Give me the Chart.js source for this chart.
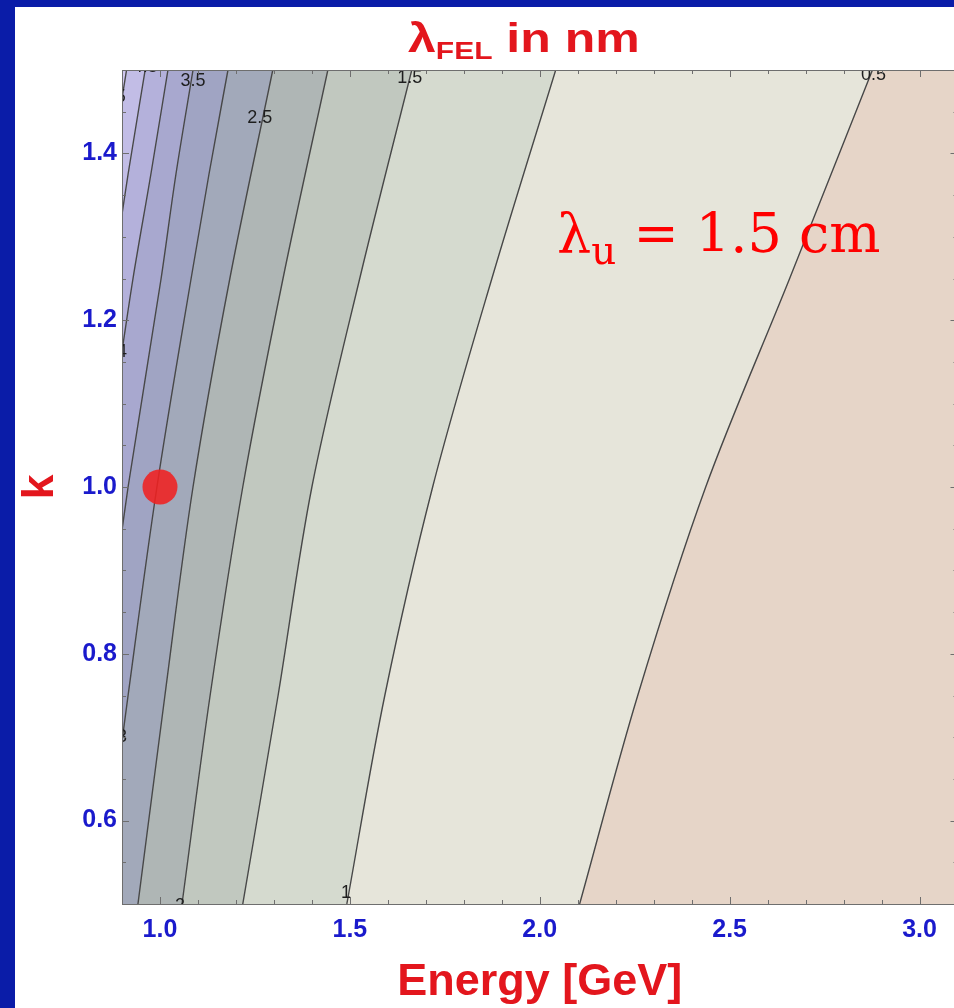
<!DOCTYPE html>
<html>
<head>
<meta charset="utf-8">
<script src="https://cdn.jsdelivr.net/npm/chart.js@4.4.1/dist/chart.umd.min.js"></script>
<style>
  html, body { margin: 0; padding: 0; }
  body { width: 954px; height: 1008px; overflow: hidden; background: #0a1ca8; position: relative; }
  #panel { position: absolute; left: 15px; top: 7px; width: 960px; height: 1001px; background: #ffffff; }
  #fel { position: absolute; left: 15px; top: 7px; }
  #title { position: absolute; left: 408px; top: 16px; white-space: nowrap; line-height: 1;
           font: bold 40px 'Liberation Sans', Arial, sans-serif; color: #e3161d;
           transform: scaleX(1.25); transform-origin: left top; }
  #title sub { font-size: 0.6em; vertical-align: -0.28em; }
  #undulator { position: absolute; left: 557px; top: 202px; white-space: nowrap; line-height: 1;
               font: 54px 'DejaVu Serif', serif; color: #ff0000; }
  #undulator sub { font-size: 0.72em; vertical-align: -0.3em; }
</style>
</head>
<body>
<div id="panel"></div>
<canvas id="fel" width="960" height="1001"></canvas>
<div id="title">λ<sub>FEL</sub> in nm</div>
<div id="undulator">λ<sub>u</sub> = 1.5 cm</div>
<script>
// axes
const xTicks = [1.0, 1.5, 2.0, 2.5, 3.0];
const yTicks = [0.6, 0.8, 1.0, 1.2, 1.4];

// contour lines: energy (GeV) at given k
const kGrid = [0.5, 0.75, 1.0, 1.25, 1.5];
const e05 = [2.105, 2.258, 2.437, 2.658, 2.876];
const e10 = [1.492, 1.592, 1.718, 1.874, 2.042];
const e15 = [1.218, 1.311, 1.400, 1.526, 1.663];
const e20 = [1.058, 1.132, 1.218, 1.324, 1.442];
const e25 = [0.942, 1.013, 1.087, 1.184, 1.297];
// these ones leave through the left frame
const k30 = [0.695, 0.75, 1.0, 1.25, 1.375, 1.5];
const e30 = [0.900, 0.916, 0.992, 1.082, 1.129, 1.179];
const k35 = [0.948, 1.0, 1.25, 1.375, 1.5];
const e35 = [0.900, 0.916, 1.003, 1.042, 1.087];
const k40 = [1.163, 1.25, 1.375, 1.5];
const e40 = [0.900, 0.929, 0.976, 1.021];
const k45 = [1.327, 1.375, 1.5];
const e45 = [0.900, 0.916, 0.961];
const k50 = [1.466, 1.5];
const e50 = [0.900, 0.912];

const levels = ['5', '4.5', '4', '3.5', '3', '2.5', '2', '1.5', '1', '0.5'];
// colour of the band on the high side of each contour
const bandColors = ['#cfc7ef', '#c2bde6', '#b4b1db', '#a8a8cf', '#a0a4c3',
                    '#a2a9ba', '#afb6b5', '#c1c8bf', '#d5dacf', '#e6e5da'];
const lowColor = '#e6d5c8';

// contour labels (text, E, k)
const labelText = ['0.5', '1.5', '2.5', '3.5', '4.5', '5', '4', '3', '2', '1'];
const labelE = [2.879, 1.658, 1.263, 1.087, 0.961, 0.897, 0.900, 0.900, 1.053, 1.490];
const labelK = [1.494, 1.490, 1.442, 1.487, 1.504, 1.468, 1.162, 0.700, 0.497, 0.513];

// operating point
const pointE = [1.0];
const pointK = [1.0];

const lines = [
  [k50, e50], [k45, e45], [k40, e40], [k35, e35], [k30, e30],
  [kGrid, e25], [kGrid, e20], [kGrid, e15], [kGrid, e10], [kGrid, e05]
];

const contourDatasets = lines.map(([ks, es], i) => ({
  label: levels[i],
  data: ks.map((k, j) => ({ x: es[j], y: k })),
  borderColor: '#484848',
  borderWidth: 1.4,
  backgroundColor: bandColors[i],
  fill: { value: 0.5 },
  pointRadius: 0,
  cubicInterpolationMode: 'monotone'
}));

const dotDataset = {
  label: 'point',
  data: pointE.map((e, i) => ({ x: e, y: pointK[i] })),
  showLine: false,
  fill: false,
  pointRadius: 17.5,
  pointBackgroundColor: 'rgba(240, 32, 32, 0.88)',
  pointBorderWidth: 0
};

const tickFont = { family: "'Liberation Sans', Arial, sans-serif", size: 25, weight: 'bold' };
const titleFont = { family: "'Liberation Sans', Arial, sans-serif", size: 45, weight: 'bold', lineHeight: 1.15 };

// background band, frame, inward ticks and contour labels
const framePlugin = {
  id: 'frame',
  beforeDraw(chart) {
    const { ctx, chartArea: a } = chart;
    ctx.save();
    ctx.fillStyle = lowColor;
    ctx.fillRect(a.left, a.top, a.right - a.left, a.bottom - a.top);
    ctx.restore();
  },
  afterDatasetsDraw(chart) {
    const { ctx, chartArea: a } = chart;
    const xs = chart.scales.x, ys = chart.scales.y;

    ctx.save();
    ctx.beginPath();
    ctx.rect(a.left, a.top, a.right - a.left, a.bottom - a.top);
    ctx.clip();
    ctx.fillStyle = '#1e1e1e';
    ctx.font = "18px 'Liberation Sans', Arial, sans-serif";
    ctx.textAlign = 'center';
    ctx.textBaseline = 'middle';
    labelText.forEach((t, i) => {
      ctx.fillText(t, xs.getPixelForValue(labelE[i]), ys.getPixelForValue(labelK[i]));
    });
    ctx.restore();

    ctx.save();
    ctx.strokeStyle = '#6e6e6e';
    ctx.lineWidth = 1;
    ctx.strokeRect(Math.round(a.left) + 0.5, Math.round(a.top) + 0.5,
                   Math.round(a.right - a.left), Math.round(a.bottom - a.top));
    ctx.beginPath();
    for (let i = 0; i <= 22; i++) {
      const v = 0.9 + i * 0.1;
      const major = xTicks.some(t => Math.abs(t - v) < 1e-6);
      const len = major ? 7 : 4;
      const px = Math.round(xs.getPixelForValue(v)) + 0.5;
      ctx.moveTo(px, a.bottom); ctx.lineTo(px, a.bottom - len);
      ctx.moveTo(px, a.top); ctx.lineTo(px, a.top + len);
    }
    for (let i = 0; i <= 20; i++) {
      const v = 0.5 + i * 0.05;
      const major = yTicks.some(t => Math.abs(t - v) < 1e-6);
      const len = major ? 7 : 4;
      const py = Math.round(ys.getPixelForValue(v)) + 0.5;
      ctx.moveTo(a.left, py); ctx.lineTo(a.left + len, py);
      ctx.moveTo(a.right, py); ctx.lineTo(a.right - len, py);
    }
    ctx.stroke();
    ctx.restore();
  }
};

new Chart(document.getElementById('fel'), {
  type: 'line',
  data: { datasets: [dotDataset, ...contourDatasets] },
  options: {
    indexAxis: 'y',
    responsive: false,
    animation: false,
    layout: { padding: { top: 63, right: 17, left: 0, bottom: 0 } },
    plugins: { legend: { display: false }, tooltip: { enabled: false } },
    scales: {
      x: {
        type: 'linear',
        min: 0.9,
        max: 3.1,
        grid: { display: false, drawTicks: false },
        border: { display: false },
        afterBuildTicks: s => { s.ticks = xTicks.map(v => ({ value: v })); },
        afterFit: s => { s.height = 104; },
        ticks: {
          color: '#1a1acc',
          font: tickFont,
          padding: 11,
          maxRotation: 0,
          callback: v => Number(v).toFixed(1)
        },
        title: { display: true, text: 'Energy [GeV]', color: '#e3161d', font: titleFont, padding: 0 }
      },
      y: {
        type: 'linear',
        min: 0.5,
        max: 1.5,
        grid: { display: false, drawTicks: false },
        border: { display: false },
        afterBuildTicks: s => { s.ticks = yTicks.map(v => ({ value: v })); },
        afterFit: s => { s.width = 107; },
        ticks: {
          color: '#1a1acc',
          font: tickFont,
          padding: 5,
          callback: v => Number(v).toFixed(1)
        },
        title: { display: true, text: 'k', color: '#e3161d', font: titleFont, padding: 0 }
      }
    }
  },
  plugins: [framePlugin]
});
</script>
</body>
</html>
